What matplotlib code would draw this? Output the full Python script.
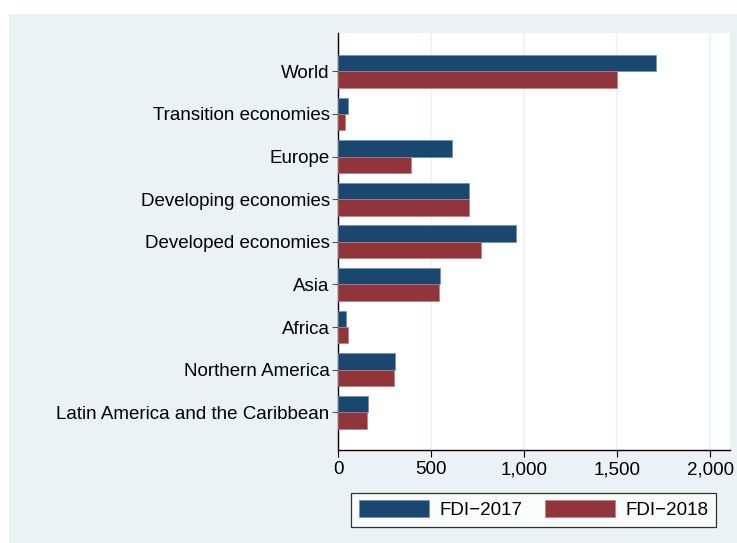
import matplotlib
matplotlib.use("Agg")
import numpy as np
import matplotlib.pyplot as plt
from matplotlib.patches import Patch, Rectangle

# Data (top to bottom as shown)
regions = ["World", "Transition economies", "Europe", "Developing economies",
           "Developed economies", "Asia", "Africa", "Northern America",
           "Latin America and the Caribbean"]
fdi_2017 = [1708, 52, 611, 706, 957, 550, 45, 308, 160]
fdi_2018 = [1502, 38, 392, 704, 767, 544, 55, 301, 154]
xticks = [0, 500, 1000, 1500, 2000]
xticklabels = ["0", "500", "1,000", "1,500", "2,000"]
series_labels = ["FDI\u22122017", "FDI\u22122018"]

navy = "#1A476F"
maroon = "#90353B"
bg = "#EAF2F3"

plt.rcParams['font.family'] = ['Liberation Sans', 'DejaVu Sans']
fs = 13.5

fig = plt.figure(figsize=(7.37, 5.43), dpi=100)
fig.patch.set_facecolor("white")
# graph region background
fig.add_artist(Rectangle((9 / 737, 0), 1, (543 - 14) / 543,
                         transform=fig.transFigure, facecolor=bg,
                         edgecolor="none", zorder=-10))

ax = fig.add_axes([338 / 737, (543 - 450) / 543, (730 - 338) / 737, (450 - 33) / 543])
ax.set_facecolor("white")

n = len(regions)
pos = np.arange(n)[::-1]
h = 0.385
ax.barh(pos + h / 2, fdi_2017, height=h, color=navy, edgecolor="#6b8fb0", linewidth=0.5, zorder=3)
ax.barh(pos - h / 2, fdi_2018, height=h, color=maroon, edgecolor="#c07a80", linewidth=0.5, zorder=3)

ax.set_xlim(0, 2107)
ax.set_ylim(-0.885, n - 1 + 0.9)
ax.set_yticks(pos)
ax.set_yticklabels(regions, fontsize=fs)
ax.set_xticks(xticks)
ax.set_xticklabels(xticklabels, fontsize=fs)
ax.tick_params(axis="y", length=4, width=0.8, color="#555555", pad=2)
ax.tick_params(axis="x", length=5, width=0.8, pad=3)

ax.grid(axis="x", color=bg, linewidth=1.2, zorder=0)
ax.set_axisbelow(True)
for s in ["top", "right"]:
    ax.spines[s].set_visible(False)
ax.spines["left"].set_linewidth(1.0)
ax.spines["bottom"].set_linewidth(1.0)

handles = [Patch(facecolor=navy, edgecolor="#6b8fb0", linewidth=0.5),
           Patch(facecolor=maroon, edgecolor="#c07a80", linewidth=0.5)]
leg = fig.legend(handles, series_labels, loc="center", ncol=2,
                 bbox_to_anchor=(0.7243, 0.0611), fontsize=fs,
                 frameon=True, fancybox=False, handlelength=3.75,
                 handleheight=1.0, handletextpad=0.55, columnspacing=1.2,
                 borderpad=0.4, borderaxespad=0)
leg.get_frame().set_edgecolor("black")
leg.get_frame().set_linewidth(0.9)
leg.get_frame().set_facecolor("white")

fig.savefig("out.png", dpi=100)
